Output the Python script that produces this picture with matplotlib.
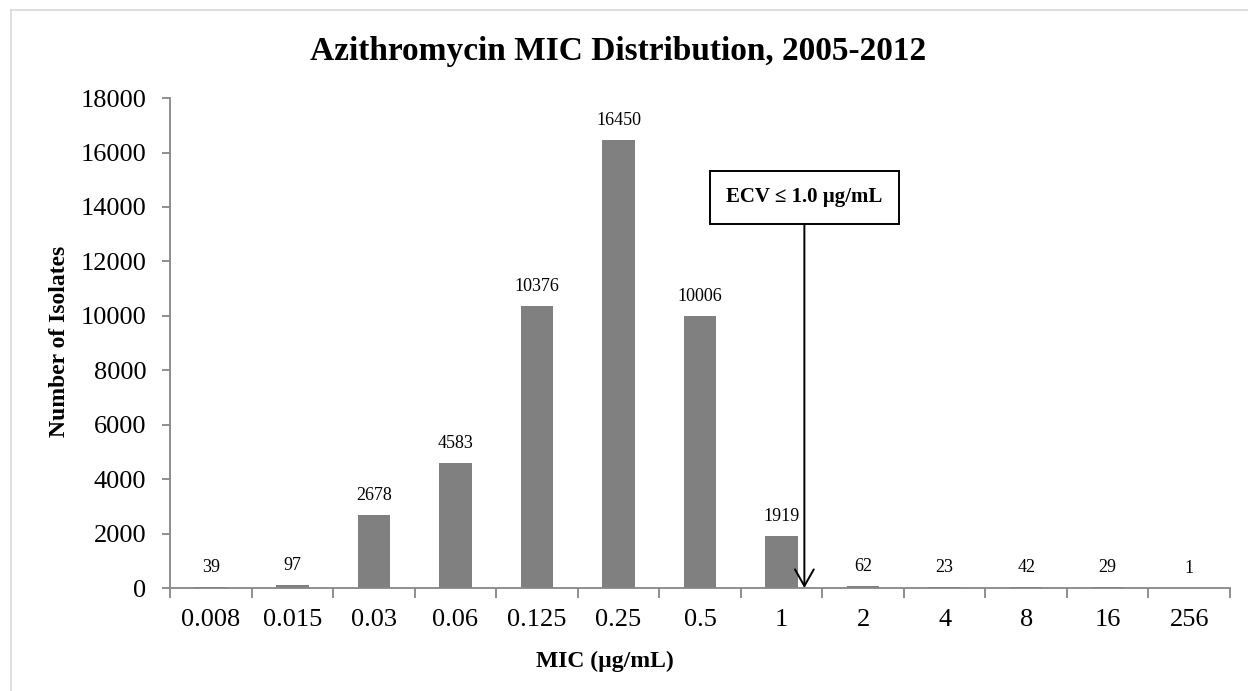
#import used libraries
import numpy as np
from matplotlib import pyplot as plt
from matplotlib.lines import Line2D

#data
mic_labels = ["0.008", "0.015", "0.03", "0.06", "0.125", "0.25", "0.5", "1", "2", "4", "8", "16", "256"]
isolates = [39, 97, 2678, 4583, 10376, 16450, 10006, 1919, 62, 23, 42, 29, 1]
ecv_position = 7.28  #arrow sits a bit right of the "1" category
ecv_text = "ECV \u2264 1.0 \u00b5g/mL"

plt.rcParams['font.family'] = ['Liberation Serif', 'DejaVu Serif']

#make picture and layout
fig = plt.figure(figsize=(12.48, 6.91), dpi=100)
ax = fig.add_axes([0.1362, 0.149, 0.8494, 0.709])

#light frame around the chart area
fig.add_artist(Line2D([10.5 / 1248, 1.0], [1 - 9.5 / 691, 1 - 9.5 / 691], color='#d9d9d9', lw=1.2))
fig.add_artist(Line2D([10.5 / 1248, 10.5 / 1248], [0.0, 1 - 9.5 / 691], color='#d9d9d9', lw=1.2))

x = np.arange(len(isolates))
ax.bar(x, isolates, width=0.4, color='#808080', zorder=2)

#value labels above bars
for xi, v in zip(x, isolates):
    ax.annotate(str(v), xy=(xi, v), xytext=(0, 8), textcoords='offset points',
                ha='center', va='bottom', fontsize=13)

ax.set_xlim(-0.5, len(isolates) - 0.5)
ax.set_ylim(0, 18000)
ax.set_yticks(np.arange(0, 18001, 2000))

#tick marks between categories, labels at centers
ax.set_xticks(np.arange(-0.5, len(isolates), 1.0))
ax.set_xticklabels([])
ax.set_xticks(x, minor=True)
ax.set_xticklabels(mic_labels, minor=True)
ax.tick_params(axis='x', which='major', length=7, width=1.3, color='#868686', direction='out')
ax.tick_params(axis='x', which='minor', length=0, pad=15, labelsize=19)
ax.tick_params(axis='y', length=6, width=1.3, color='#868686', pad=11, labelsize=19)

for side in ['top', 'right']:
    ax.spines[side].set_visible(False)
for side in ['left', 'bottom']:
    ax.spines[side].set_color('#868686')
    ax.spines[side].set_linewidth(1.3)

#title and axis labels
fig.text(0.495, 0.926, "Azithromycin MIC Distribution, 2005-2012", ha='center', va='center',
         fontsize=24, fontweight='bold')
fig.text(0.048, 0.506, "Number of Isolates", rotation=90, ha='center', va='center',
         fontsize=17, fontweight='bold')
fig.text(0.485, 0.043, "MIC (\u00b5g/mL)", ha='center', va='center',
         fontsize=17, fontweight='bold')

#ECV annotation with arrow
ax.annotate(ecv_text, xy=(ecv_position, 0), xytext=(ecv_position, 14350),
            ha='center', va='center', fontsize=15, fontweight='bold',
            bbox=dict(boxstyle='square,pad=0.8', fc='white', ec='black', lw=1.4),
            arrowprops=dict(arrowstyle='->,head_length=0.8,head_width=0.45', lw=1.4, color='black',
                            shrinkA=0, shrinkB=0),
            zorder=5)

#save figure
plt.savefig("out.png", dpi=100)
plt.close()
